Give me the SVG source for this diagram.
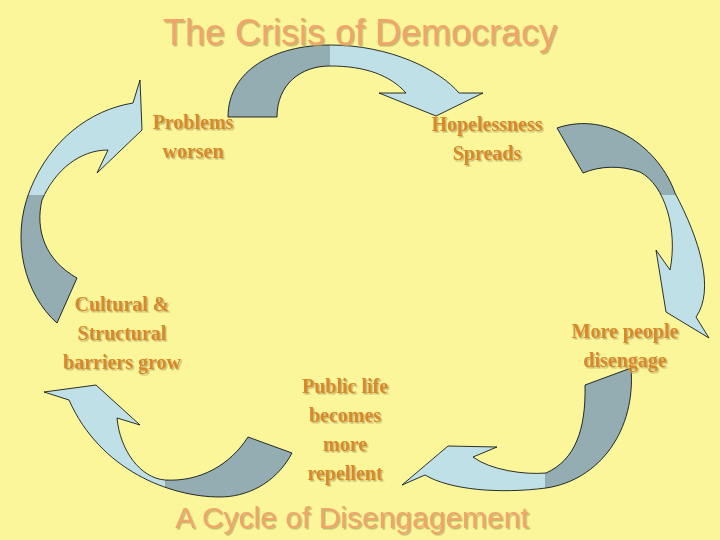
<svg xmlns="http://www.w3.org/2000/svg" width="720" height="540" viewBox="0 0 720 540">
<style>
.lab{font-family:"Liberation Serif",serif;font-weight:bold;font-size:20px;fill:#D9892A;text-anchor:middle}
.ttl{font-family:"Liberation Sans",Arial,sans-serif;fill:#F2A56A;text-anchor:middle}
.lt{fill:#BEE0E6;stroke:none}
.dk{fill:#93ADB2;stroke:none}
.ol{fill:none;stroke:#000;stroke-width:0.8}
</style>
<defs>
<filter id="sh"><feDropShadow dx="1.5" dy="1.5" stdDeviation="0.6" flood-color="#B8A860" flood-opacity="0.8"/></filter>
<path id="a1" d="M228,117 C228,70 275,45 330,45 C390,45 440,70 459,93 L483,93 L436,116 L379,93 L406,93 C390,75 365,66 330,66 C300,66 277,85 277,117 Z"/>
<path id="a2" d="M557,128 C610,110 660,150 675,193 C700,240 715,290 696,317 L709,338 L666,312 L656,250 L670,270 C678,230 665,185 640,172 C620,165 600,166 583,173 Z"/>
<path id="a3" d="M631,368 C636,430 600,480 546,488 C500,494 450,490 425,475 L402,485 L448,446 L497,447 L473,457 C490,470 525,475 546,473 C575,460 586,430 585,385 Z"/>
<path id="a4" d="M292,453 C275,485 245,497 220,497 C170,497 100,470 69,400 L44,392 L96,385 L140,425 L117,418 C120,450 140,478 165,480 C200,482 230,465 248,437 Z"/>
<path id="a5" d="M57,323 C25,295 10,240 30,190 C50,140 90,110 133,103 L140,80 L142,130 L97,173 L108,150 C80,150 55,170 42,200 C35,230 45,260 77,278 Z"/>
<clipPath id="c1"><rect x="0" y="0" width="330" height="540"/></clipPath>
<clipPath id="c2"><rect x="0" y="0" width="720" height="195"/></clipPath>
<clipPath id="c3"><rect x="545" y="0" width="200" height="540"/></clipPath>
<clipPath id="c4"><rect x="165" y="0" width="200" height="540"/></clipPath>
<clipPath id="c5"><rect x="0" y="195" width="200" height="200"/></clipPath>
</defs>
<rect width="720" height="540" fill="#FBF69A"/>
<g id="connectors">
<use href="#a1" class="lt"/><use href="#a1" class="dk" clip-path="url(#c1)"/><use href="#a1" class="ol"/>
<use href="#a2" class="lt"/><use href="#a2" class="dk" clip-path="url(#c2)"/><use href="#a2" class="ol"/>
<use href="#a3" class="lt"/><use href="#a3" class="dk" clip-path="url(#c3)"/><use href="#a3" class="ol"/>
<use href="#a4" class="lt"/><use href="#a4" class="dk" clip-path="url(#c4)"/><use href="#a4" class="ol"/>
<use href="#a5" class="lt"/><use href="#a5" class="dk" clip-path="url(#c5)"/><use href="#a5" class="ol"/>
</g>
<text class="ttl" x="360" y="45" font-size="36" filter="url(#sh)">The Crisis of Democracy</text>
<g id="problems" filter="url(#sh)"><text class="lab" x="193" y="129">Problems</text><text class="lab" x="193" y="158">worsen</text></g>
<g id="hopelessness" filter="url(#sh)"><text class="lab" x="487" y="131">Hopelessness</text><text class="lab" x="487" y="160">Spreads</text></g>
<g id="disengage" filter="url(#sh)"><text class="lab" x="625" y="338">More people</text><text class="lab" x="625" y="367">disengage</text></g>
<g id="public" filter="url(#sh)"><text class="lab" x="345" y="393">Public life</text><text class="lab" x="345" y="422">becomes</text><text class="lab" x="345" y="451">more</text><text class="lab" x="345" y="480">repellent</text></g>
<g id="cultural" filter="url(#sh)"><text class="lab" x="122" y="311">Cultural &amp;</text><text class="lab" x="122" y="340">Structural</text><text class="lab" x="122" y="369">barriers grow</text></g>
<text class="ttl" x="352" y="528" font-size="30" filter="url(#sh)">A Cycle of Disengagement</text>
</svg>
